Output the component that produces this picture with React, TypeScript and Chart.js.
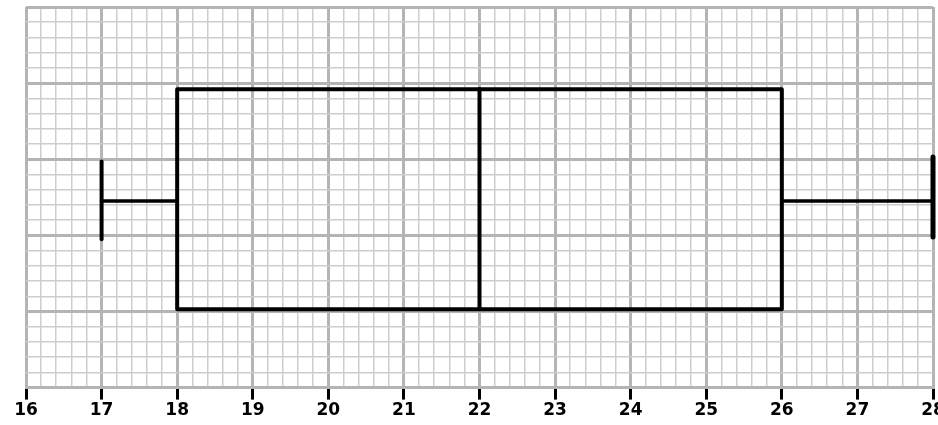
import React, { useEffect, useRef } from "react";
import { Chart, registerables } from "chart.js";

Chart.register(...registerables);

// ---- data ----
const categories = ["Data"];
const minValues = [17];
const q1Values = [18];
const medianValues = [22];
const q3Values = [26];
const maxValues = [28];
const xTickLabels = [16, 17, 18, 19, 20, 21, 22, 23, 24, 25, 26, 27, 28];

// ---- layout (vertical placement on the graph paper, in y-units 0..5) ----
const BOX_LOW = 1.03;
const BOX_HIGH = 3.92;
const WHISKER_Y = 2.45;
const CAP_LOW = 1.95;
const CAP_HIGH = 2.97;

const MAJOR = "#b4b4b4";
const MINOR = "#cdcdcd";

function isMajor(v: number) {
  return Math.abs(v - Math.round(v)) < 1e-6;
}

export default function App() {
  const ref = useRef<HTMLCanvasElement | null>(null);

  useEffect(() => {
    document.body.style.margin = "0";
    const canvas = ref.current;
    if (!canvas) return;

    const i = 0;
    void categories;
    const mn = minValues[i], a = q1Values[i], md = medianValues[i], b = q3Values[i], mx = maxValues[i];

    const line = (pts: { x: number; y: number }[], w: number) => ({
      data: pts,
      showLine: true,
      borderColor: "#000",
      borderWidth: w,
      pointRadius: 0,
      tension: 0,
      clip: false as any,
      borderCapStyle: "round" as const,
      borderJoinStyle: "round" as const,
    });

    const chart = new Chart(canvas, {
      type: "scatter",
      data: {
        datasets: [
          line(
            [
              { x: a, y: BOX_LOW },
              { x: b, y: BOX_LOW },
              { x: b, y: BOX_HIGH },
              { x: a, y: BOX_HIGH },
              { x: a, y: BOX_LOW },
            ],
            4
          ),
          line([{ x: md, y: BOX_LOW }, { x: md, y: BOX_HIGH }], 4),
          line([{ x: mn, y: WHISKER_Y }, { x: a, y: WHISKER_Y }], 3.5),
          line([{ x: b, y: WHISKER_Y }, { x: mx, y: WHISKER_Y }], 3.5),
          line([{ x: mn, y: CAP_LOW }, { x: mn, y: CAP_HIGH }], 4),
          line([{ x: mx, y: CAP_LOW + 0.03 }, { x: mx, y: CAP_HIGH + 0.06 }], 5),
        ],
      },
      options: {
        animation: false,
        responsive: false,
        layout: { autoPadding: false, padding: { left: 26, right: 5, top: 7, bottom: 3 } },
        plugins: { legend: { display: false }, tooltip: { enabled: false } },
        scales: {
          x: {
            type: "linear",
            min: xTickLabels[0],
            max: xTickLabels[xTickLabels.length - 1],
            afterFit: (scale: any) => {
              scale.paddingRight = 0;
            },
            border: { display: true, color: MAJOR, width: 3 },
            grid: {
              color: (c: any) => (isMajor(c.tick.value) ? MAJOR : MINOR),
              lineWidth: (c: any) => (isMajor(c.tick.value) ? 3 : 1.5),
              tickColor: (c: any) => (isMajor(c.tick.value) ? "#000" : "rgba(0,0,0,0)"),
              tickWidth: 3,
              tickLength: 12,
              drawTicks: true,
            },
            ticks: {
              stepSize: 0.2,
              autoSkip: false,
              maxRotation: 0,
              color: "#000",
              padding: 1,
              font: { family: "DejaVu Sans", size: 17, weight: "bold" },
              callback: (v: any) => {
                const n = Number(v);
                return isMajor(n) && xTickLabels.includes(Math.round(n)) ? String(Math.round(n)) : "";
              },
            },
          },
          y: {
            type: "linear",
            min: 0,
            max: 5,
            border: { display: false },
            grid: {
              color: (c: any) => (isMajor(c.tick.value) ? MAJOR : MINOR),
              lineWidth: (c: any) => (isMajor(c.tick.value) ? 3 : 1.5),
              drawTicks: false,
            },
            ticks: { stepSize: 0.2, display: false, autoSkip: false },
          },
        },
      },
    });
    return () => chart.destroy();
  }, []);

  return (
    <div style={{ width: 938, height: 425 }}>
      <canvas ref={ref} width={938} height={425} style={{ display: "block" }} />
    </div>
  );
}
